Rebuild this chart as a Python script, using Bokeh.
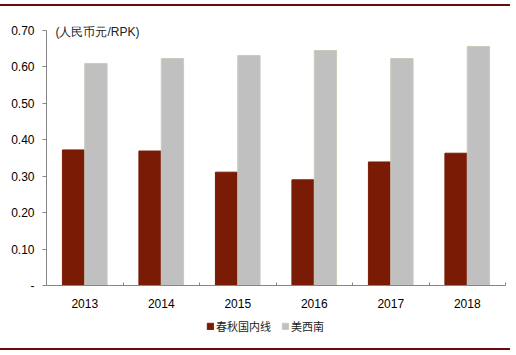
from bokeh.plotting import figure
from bokeh.models import (ColumnDataSource, FixedTicker, Legend, LegendItem, Label, Div, Range1d)
from bokeh.layouts import column
from bokeh.transform import dodge
from bokeh.embed import file_html
from bokeh.resources import INLINE

years = ["2013", "2014", "2015", "2016", "2017", "2018"]
spring = [0.372, 0.369, 0.311, 0.290, 0.339, 0.363]
southwest = [0.609, 0.623, 0.631, 0.645, 0.623, 0.656]
series_names = ["春秋国内线", "美西南"]
y_ticks = [0.0, 0.1, 0.2, 0.3, 0.4, 0.5, 0.6, 0.7]
y_labels = ["-", "0.10", "0.20", "0.30", "0.40", "0.50", "0.60", "0.70"]
unit_label = "(人民币元/RPK)"

RED = "#7A1B06"
GRAY = "#C0C0C0"
GRAY_EDGE = "#CACABC"
AXIS = "#868686"
W = 510

xs = [i + 0.5 for i in range(len(years))]
src = ColumnDataSource(dict(x=xs, spring=spring, southwest=southwest))

p = figure(width=W, height=304, output_backend="svg", toolbar_location=None,
           x_range=Range1d(0, len(years)), y_range=Range1d(0, 0.73),
           min_border_left=46, min_border_right=5, min_border_top=13, min_border_bottom=24)
p.outline_line_color = None
p.grid.grid_line_color = None

p.vbar(x=dodge("x", -0.146, range=p.x_range), top="spring", width=0.292, source=src,
       fill_color=RED, line_color=RED)
p.vbar(x=dodge("x", 0.146, range=p.x_range), top="southwest", width=0.292, source=src,
       fill_color=GRAY, line_color=GRAY_EDGE)

# x axis
p.xaxis.ticker = FixedTicker(ticks=xs, minor_ticks=list(range(len(years) + 1)))
p.xaxis.major_label_overrides = {x: y for x, y in zip(xs, years)}
p.xaxis.major_tick_line_color = None
p.xaxis.minor_tick_line_color = AXIS
p.xaxis.minor_tick_in = 3
p.xaxis.minor_tick_out = 0
p.xaxis.axis_line_color = AXIS
p.xaxis.major_label_standoff = 7
p.xaxis.major_label_text_font = "Liberation Sans"
p.xaxis.major_label_text_font_size = "12px"
p.xaxis.major_label_text_color = "#000000"

# y axis
p.yaxis.ticker = FixedTicker(ticks=y_ticks)
p.yaxis.bounds = (0, 0.70)
p.yaxis.major_label_overrides = {t: l for t, l in zip(y_ticks, y_labels)}
p.yaxis.minor_tick_line_color = None
p.yaxis.major_tick_line_color = AXIS
p.yaxis.major_tick_in = 0
p.yaxis.major_tick_out = 4
p.yaxis.axis_line_color = AXIS
p.yaxis.major_label_standoff = 8
p.yaxis.major_label_text_font = "Liberation Sans"
p.yaxis.major_label_text_font_size = "12px"
p.yaxis.major_label_text_color = "#000000"

p.add_layout(Label(x=9, y=254, x_units="screen", y_units="screen", text=unit_label,
                   text_font="Liberation Sans", text_font_size="12px", text_color="#222222",
                   text_baseline="middle"))

# legend strip (separate figure so the legend is not clipped)
lg = figure(width=W, height=38, output_backend="svg", toolbar_location=None,
            x_axis_location=None, y_axis_location=None,
            min_border=0, min_border_left=0, min_border_right=0,
            min_border_top=0, min_border_bottom=0,
            x_range=Range1d(0, 1), y_range=Range1d(0, 1))
lg.outline_line_color = None
lg.grid.grid_line_color = None
off = ColumnDataSource(dict(x=[-50], top=[-50]))
l1 = lg.vbar(x="x", top="top", bottom=-60, width=0.1, source=off, fill_color=RED, line_color=RED)
l2 = lg.vbar(x="x", top="top", bottom=-60, width=0.1, source=off, fill_color=GRAY, line_color=GRAY_EDGE)
legend = Legend(items=[LegendItem(label=series_names[0], renderers=[l1]),
                       LegendItem(label=series_names[1], renderers=[l2])],
                orientation="horizontal", location=(160, 14),
                glyph_width=8, glyph_height=8, label_standoff=2, spacing=10,
                padding=0, margin=0, border_line_color=None, background_fill_alpha=0,
                label_text_font="Noto Sans CJK SC", label_text_font_size="11px",
                label_text_color="#222222", label_height=14)
lg.add_layout(legend)

top = Div(width=W, height=2, styles={"background-color": "#6B0A0A"}, margin=(4, 0, 0, 0))
bot = Div(width=W, height=2, styles={"background-color": "#6B0A0A"}, margin=0)
layout = column(top, p, lg, bot, spacing=0)

open("out.html", "w").write(file_html(layout, INLINE))
